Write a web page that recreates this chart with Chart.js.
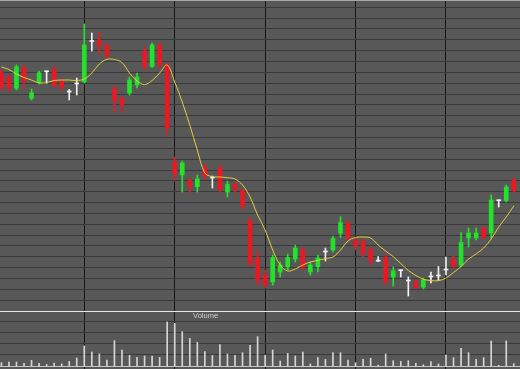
<!DOCTYPE html>
<html>
<head>
<meta charset="utf-8">
<script src="https://cdn.jsdelivr.net/npm/chart.js@4.4.0/dist/chart.umd.min.js"></script>
<style>
  html, body { margin: 0; padding: 0; background: #585858; }
  #wrap { width: 520px; height: 369px; }
</style>
</head>
<body>
<div id="wrap"><canvas id="stockChart" width="520" height="369"></canvas></div>
<script>
// trading day number of each candle
const days = [1, 2, 3, 4, 5, 6, 7, 8, 9, 10, 11, 12, 13, 14, 15, 16, 17, 18, 19, 20,
    21, 22, 23, 24, 25, 26, 27, 28, 29, 30, 31, 32, 33, 34, 35, 36, 37, 38, 39, 40,
    41, 42, 43, 44, 45, 46, 47, 48, 49, 50, 51, 52, 53, 54, 55, 56, 57, 58, 59, 60,
    61, 62, 63, 64, 65, 66, 67, 68, 69];

const openPrices = [29.63, 29.2, 28.07, 30.1, 27.07, 28.63, 29.72, 29.97, 28.73, 27.7,
    28.5, 28.73, 32.75, 32.9, 32.3, 28.1, 27.1, 27.6, 28.4, 31.8,
    30.25, 32.35, 30.4, 20.7, 19.4, 18.83, 18.23, 20.15, 19.1, 20.1,
    17.7, 18.45, 17.85, 14.9, 11.1, 9.4, 8.7, 9.7, 10.2, 11.0,
    11.9, 9.7, 10.23, 11.7, 11.9, 13.57, 14.6, 12.9, 12.8, 11.95,
    10.78, 11.15, 9.2, 9.83, 8.8, 8.75, 8.18, 9.2, 9.3, 9.9,
    11.0, 10.4, 13.1, 13.1, 14.1, 13.6, 16.83, 16.85, 18.9];
const highPrices = [29.9, 29.4, 30.4, 30.4, 28.0, 29.8, 29.8, 30.23, 29.0, 27.97,
    29.1, 34.5, 33.6, 33.7, 32.6, 28.2, 27.2, 29.2, 29.6, 32.2,
    32.6, 32.63, 30.6, 21.2, 20.8, 19.1, 19.4, 20.5, 19.3, 20.4,
    18.8, 18.7, 18.0, 15.1, 11.9, 9.9, 11.4, 10.7, 11.5, 12.4,
    12.1, 10.7, 11.4, 12.1, 13.3, 15.23, 14.8, 13.1, 13.0, 12.2,
    11.25, 11.4, 10.2, 9.9, 9.2, 8.9, 9.1, 9.7, 10.25, 11.2,
    11.3, 13.65, 14.1, 14.1, 14.3, 17.4, 16.9, 18.4, 19.1];
const lowPrices = [27.9, 27.7, 27.9, 28.1, 26.9, 28.5, 28.57, 28.2, 27.83, 26.9,
    27.4, 28.6, 31.8, 31.5, 31.1, 25.7, 25.7, 27.4, 28.1, 29.9,
    30.15, 30.07, 23.4, 18.9, 17.7, 17.6, 17.7, 18.9, 18.1, 17.6,
    17.2, 17.6, 16.0, 10.3, 8.4, 8.1, 8.4, 9.2, 9.9, 10.7,
    9.9, 9.4, 9.7, 10.8, 11.7, 13.15, 12.9, 11.9, 11.2, 10.4,
    10.75, 8.4, 8.3, 9.2, 7.3, 8.0, 8.0, 8.6, 8.9, 9.4,
    10.1, 10.2, 12.2, 12.9, 13.0, 13.1, 16.2, 16.7, 17.7];
const closePrices = [28.17, 28.1, 30.23, 28.8, 27.63, 29.63, 29.72, 28.3, 28.17, 27.7,
    28.5, 32.4, 32.75, 32.3, 31.3, 26.8, 26.4, 28.9, 29.2, 30.23,
    32.4, 30.4, 24.1, 19.5, 20.6, 18.23, 19.0, 19.3, 19.1, 17.9,
    18.45, 17.9, 16.25, 10.5, 8.8, 8.4, 11.15, 10.4, 11.15, 12.1,
    10.2, 10.4, 11.1, 11.7, 13.05, 14.63, 13.07, 12.35, 11.5, 10.8,
    10.78, 8.7, 9.8, 9.83, 8.8, 8.18, 8.9, 9.2, 9.3, 9.9,
    10.25, 12.65, 13.6, 13.6, 13.15, 16.9, 16.83, 18.2, 17.85];

// moving average line
const movingAvg = [30.2, 29.95, 29.5, 29.15, 28.9, 28.6, 28.65, 28.85, 28.9, 28.9,
    28.85, 29.0, 29.6, 30.5, 30.97, 30.95, 30.65, 29.6, 28.8, 28.45,
    28.85, 29.6, 30.4, 28.7, 26.7, 24.4, 21.9, 19.6, 19.23, 19.2,
    19.13, 19.0, 18.4, 17.2, 15.4, 13.9, 11.9, 10.4, 9.8, 10.0,
    10.4, 10.7, 10.85, 11.05, 11.2, 11.9, 12.8, 13.15, 13.2, 13.1,
    12.4, 11.8, 11.23, 10.55, 9.85, 9.35, 8.97, 8.85, 8.83, 9.1,
    9.65, 10.25, 11.0, 11.5, 12.1, 13.0, 14.2, 15.2, 16.3];

const volumes = [400, 470, 470, 330, 630, 330, 230, 370, 270, 530,
    870, 2070, 1470, 1270, 670, 2600, 1670, 1130, 930, 1070,
    1070, 930, 4470, 4330, 3500, 2830, 2430, 1500, 1130, 2200,
    1270, 1130, 1400, 2130, 3000, 1130, 1670, 570, 1330, 1070,
    1470, 270, 900, 730, 1400, 1400, 670, 400, 730, 830,
    170, 1270, 600, 530, 600, 330, 200, 500, 270, 1170,
    900, 1830, 1400, 730, 900, 2570, 130, 2570, 300];

// vertical separators
const periodDays = [12, 24, 36, 48, 60];

const UP = '#22e22a';
const DOWN = '#ea1822';
const FLAT = '#f2f2f2';

const candleColors = openPrices.map((o, i) => {
    if (closePrices[i] > o) return UP;
    if (closePrices[i] < o) return DOWN;
    return FLAT;
});

const bodyData = days.map((d, i) => ({x: d, y: [openPrices[i], closePrices[i]]}));
const wickData = days.map((d, i) => ({x: d, y: [lowPrices[i], highPrices[i]]}));
const maData = days.map((d, i) => ({x: d, y: movingAvg[i]}));
const volData = days.map((d, i) => ({x: d, y: volumes[i]}));

// Volume caption under the separator line
const volumeLabel = {
    id: 'volumeLabel',
    afterDatasetsDraw(chart) {
        const {ctx, scales} = chart;
        ctx.save();
        ctx.font = '7.5px "Liberation Sans", Arial, sans-serif';
        ctx.fillStyle = '#d0d0d0';
        ctx.textAlign = 'center';
        ctx.textBaseline = 'middle';
        ctx.fillText('Volume', scales.x.getPixelForValue(28.1), scales.y.getPixelForValue(5.33));
        ctx.restore();
    }
};

const ctx = document.getElementById('stockChart').getContext('2d');
new Chart(ctx, {
    type: 'bar',
    data: {
        datasets: [
            {
                type: 'line',
                label: 'Average',
                data: maData,
                borderColor: '#e2cf3a',
                borderWidth: 1,
                pointRadius: 0,
                tension: 0.35,
                yAxisID: 'y',
                order: 0
            },
            {
                label: 'Body',
                data: bodyData,
                backgroundColor: candleColors,
                barThickness: 4,
                minBarLength: 1,
                grouped: false,
                yAxisID: 'y',
                order: 1
            },
            {
                label: 'Wick',
                data: wickData,
                backgroundColor: candleColors,
                barThickness: 1,
                grouped: false,
                yAxisID: 'y',
                order: 2
            },
            {
                label: 'Volume',
                data: volData,
                backgroundColor: '#d6d6d6',
                barThickness: 1,
                grouped: false,
                yAxisID: 'yv',
                order: 3
            }
        ]
    },
    options: {
        responsive: false,
        animation: false,
        devicePixelRatio: 1,
        layout: {padding: 0},
        plugins: {
            legend: {display: false},
            tooltip: {enabled: false}
        },
        scales: {
            x: {
                type: 'linear',
                offset: false,
                min: 0.814,
                max: 69.823,
                afterBuildTicks: s => { s.ticks = periodDays.map(v => ({value: v})); },
                ticks: {display: false},
                border: {display: false},
                grid: {color: '#161616', lineWidth: 1, drawTicks: false, offset: false}
            },
            y: {
                min: 0,
                max: 36.9,
                afterBuildTicks: s => {
                    const t = [{value: 36.9, top: true}];
                    for (let k = 0; k <= 32; k++) {
                        t.push({value: 36.17 - 1.085 * k, sep: k === 28});
                    }
                    s.ticks = t;
                },
                ticks: {display: false},
                border: {display: false},
                grid: {
                    drawTicks: false,
                    lineWidth: 1,
                    color: c => c.tick && c.tick.sep ? '#e8e8e8' : (c.tick && c.tick.top ? '#a8a8a8' : '#3a3a3a')
                }
            },
            yv: {
                position: 'left',
                min: -230,
                max: 36670,
                afterBuildTicks: s => { s.ticks = [{value: 0}]; },
                ticks: {display: false},
                border: {display: false},
                grid: {drawTicks: false, color: '#c4c4c4', lineWidth: 1}
            }
        }
    },
    plugins: [volumeLabel]
});
</script>
</body>
</html>
